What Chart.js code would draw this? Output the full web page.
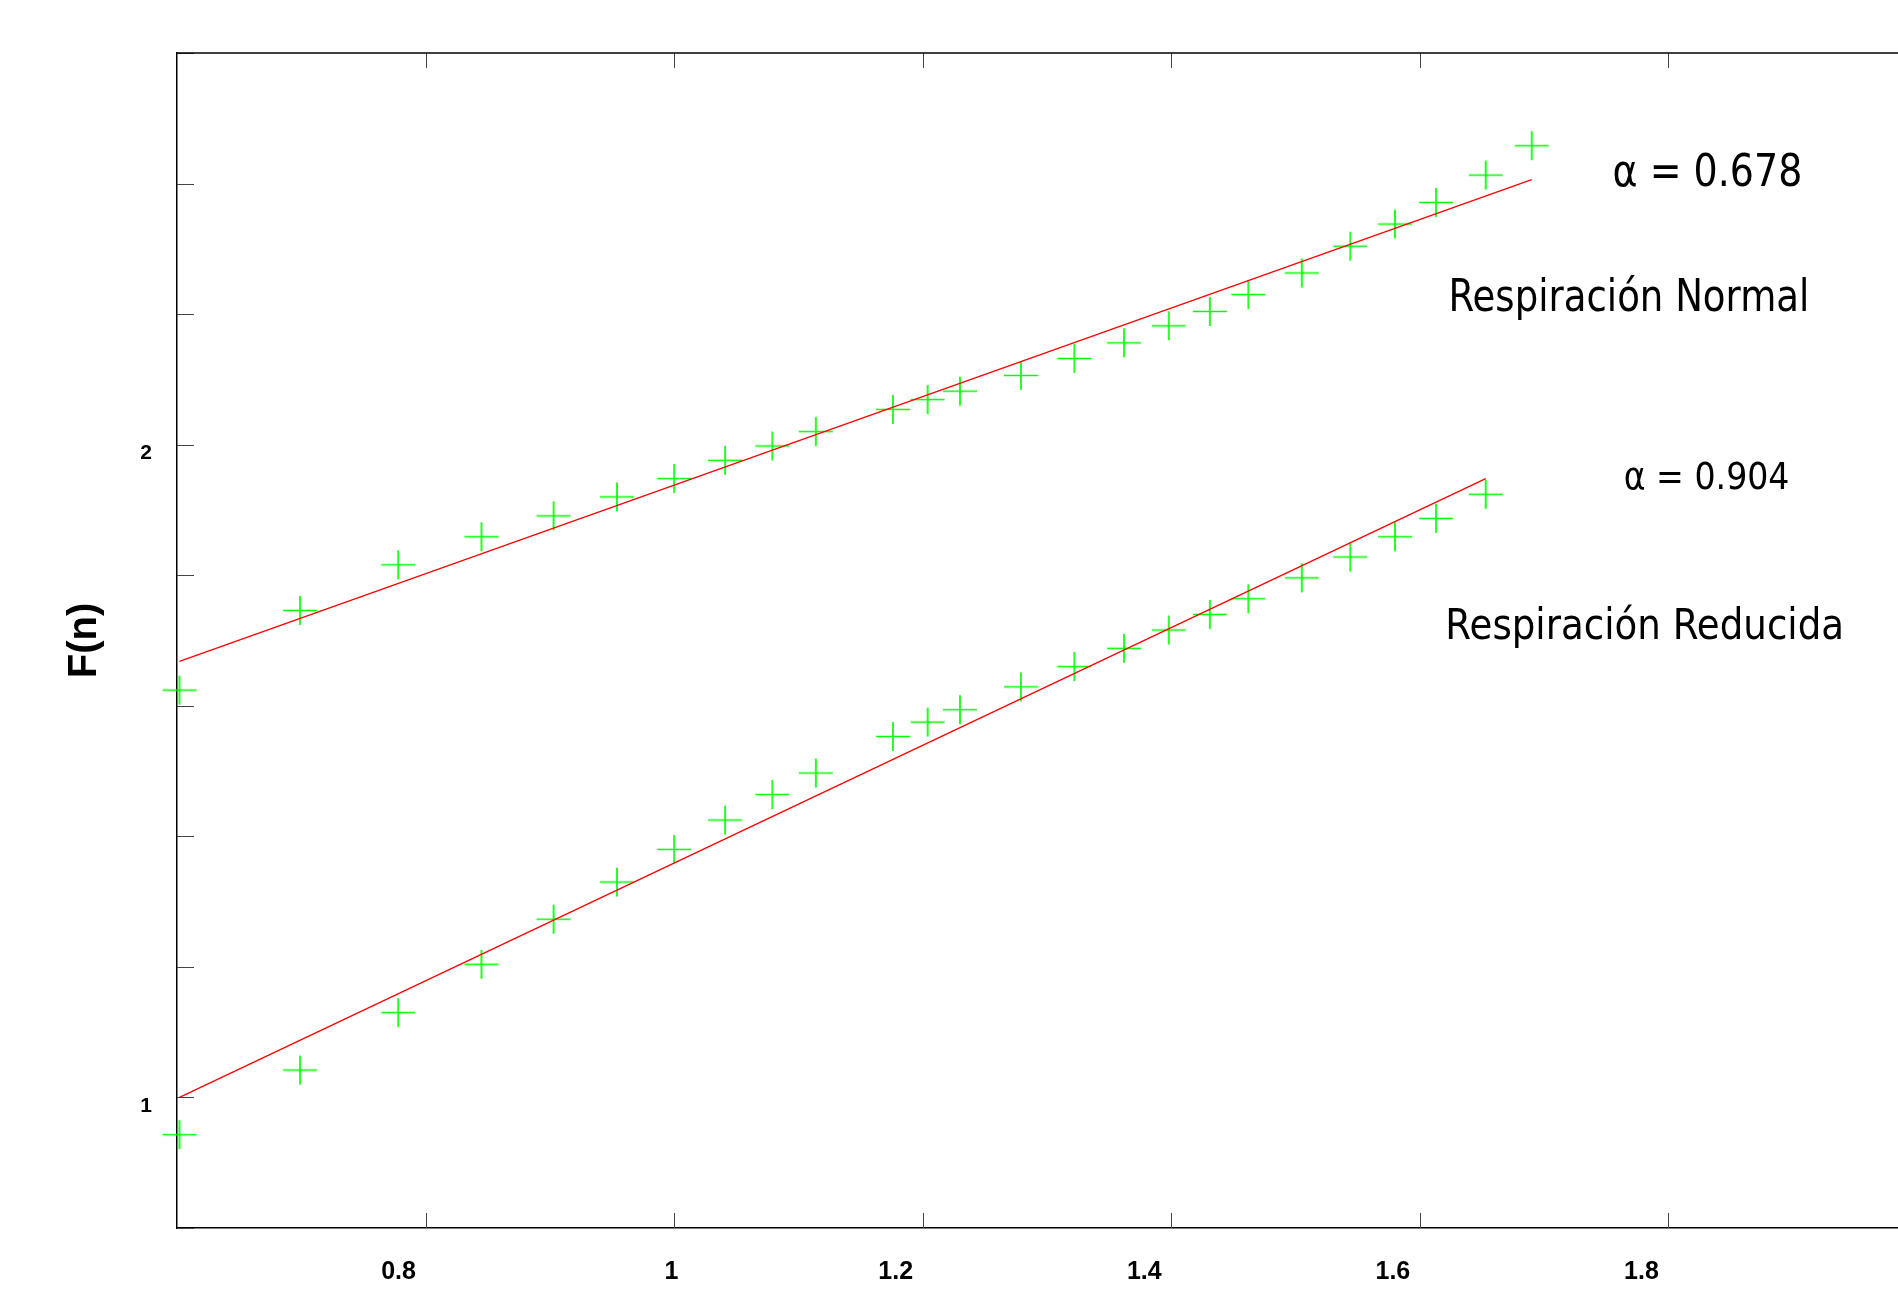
<!DOCTYPE html>
<html>
<head>
<meta charset="utf-8">
<script src="https://cdn.jsdelivr.net/npm/chart.js@4.4.1/dist/chart.umd.min.js"></script>
<style>
  html, body { margin: 0; padding: 0; overflow: hidden; background: #fff; }
  #myChart { display: block; }
</style>
</head>
<body>
<canvas id="myChart" width="1946" height="1290"></canvas>
<script>
// log10(n) window sizes
const logNNormal = [0.602, 0.699, 0.778, 0.845, 0.903, 0.954, 1.000, 1.041, 1.079, 1.114,
  1.176, 1.204, 1.230, 1.279, 1.322, 1.362, 1.398, 1.431, 1.462, 1.505,
  1.544, 1.580, 1.613, 1.653, 1.690];
const fNormal = [1.624, 1.746, 1.816, 1.859, 1.891, 1.920, 1.948, 1.976, 1.998, 2.020,
  2.054, 2.069, 2.082, 2.106, 2.132, 2.156, 2.182, 2.204, 2.230, 2.263,
  2.304, 2.338, 2.371, 2.413, 2.458];

const logNReduced = [0.602, 0.699, 0.778, 0.845, 0.903, 0.954, 1.000, 1.041, 1.079, 1.114,
  1.176, 1.204, 1.230, 1.279, 1.322, 1.362, 1.398, 1.431, 1.462, 1.505,
  1.544, 1.580, 1.613, 1.653];
const fReduced = [0.943, 1.042, 1.130, 1.204, 1.273, 1.330, 1.380, 1.425, 1.464, 1.497,
  1.553, 1.575, 1.594, 1.629, 1.660, 1.688, 1.716, 1.740, 1.764, 1.796,
  1.828, 1.859, 1.887, 1.924];

// fitted lines (end points)
const fitNormalX = [0.602, 1.690];
const fitNormalY = [1.668, 2.406];
const fitReducedX = [0.602, 1.653];
const fitReducedY = [1.000, 1.948];

const xTickLabels = ['0.8', '1', '1.2', '1.4', '1.6', '1.8'];
const yTickLabels = ['1', '2'];

const toPoints = (xs, ys) => xs.map((x, i) => ({x: x, y: ys[i]}));

// green "+" marker, a bit wider than tall like the original
function plusMarker() {
  const c = document.createElement('canvas');
  c.width = 36; c.height = 31;
  const g = c.getContext('2d');
  g.strokeStyle = '#00ff00';
  g.lineWidth = 1.7;
  g.beginPath();
  g.moveTo(1, 15.5); g.lineTo(35, 15.5);
  g.moveTo(18, 1); g.lineTo(18, 30);
  g.stroke();
  return c;
}
const marker = plusMarker();

const notes = [
  {text: 'α = 0.678', x: 1.755, y: 2.396, size: 38, stretch: 1.17},
  {text: 'Respiración Normal', x: 1.623, y: 2.205, size: 37.1, stretch: 1.18},
  {text: 'α = 0.904', x: 1.764, y: 1.932, size: 33.2, stretch: 1.1},
  {text: 'Respiración Reducida', x: 1.6205, y: 1.703, size: 37.2, stretch: 1.14}
];

const framePlugin = {
  id: 'frame',
  afterDraw(chart) {
    const {ctx, chartArea: a, scales: {x, y}} = chart;
    ctx.save();
    // inward tick marks
    ctx.strokeStyle = '#444';
    ctx.lineWidth = 1;
    ctx.beginPath();
    x.ticks.forEach(t => {
      const px = Math.round(x.getPixelForValue(t.value)) + 0.5;
      if (px < a.left + 3 || px > a.right - 3) return;
      ctx.moveTo(px, a.bottom); ctx.lineTo(px, a.bottom - 15);
      ctx.moveTo(px, a.top); ctx.lineTo(px, a.top + 15);
    });
    y.ticks.forEach(t => {
      const py = Math.round(y.getPixelForValue(t.value)) + 0.5;
      ctx.moveTo(a.left, py); ctx.lineTo(a.left + 17, py);
    });
    ctx.stroke();
    // top frame line
    ctx.strokeStyle = '#000';
    ctx.lineWidth = 1.5;
    ctx.beginPath();
    ctx.moveTo(a.left, a.top); ctx.lineTo(chart.width, a.top);
    ctx.stroke();
    // text notes
    ctx.fillStyle = '#000';
    ctx.textAlign = 'left';
    ctx.textBaseline = 'alphabetic';
    notes.forEach(n => {
      ctx.save();
      ctx.translate(x.getPixelForValue(n.x), y.getPixelForValue(n.y));
      ctx.scale(1, n.stretch);
      ctx.font = n.size + "px 'DejaVu Sans', Verdana, sans-serif";
      ctx.fillText(n.text, 0, 0);
      ctx.restore();
    });
    ctx.restore();
  }
};

Chart.defaults.font.family = "'Liberation Sans', Arial, sans-serif";
Chart.defaults.color = '#000';

const ctx = document.getElementById('myChart').getContext('2d');
const chart = new Chart(ctx, {
  type: 'scatter',
  data: {
    datasets: [
      {
        label: 'Ajuste normal',
        data: toPoints(fitNormalX, fitNormalY),
        showLine: true,
        borderColor: '#ff0000',
        borderWidth: 1.3,
        pointRadius: 0,
        clip: false
      },
      {
        label: 'Ajuste reducida',
        data: toPoints(fitReducedX, fitReducedY),
        showLine: true,
        borderColor: '#ff0000',
        borderWidth: 1.3,
        pointRadius: 0,
        clip: false
      },
      {
        label: 'Respiración Normal',
        data: toPoints(logNNormal, fNormal),
        pointStyle: marker,
        clip: false
      },
      {
        label: 'Respiración Reducida',
        data: toPoints(logNReduced, fReduced),
        pointStyle: marker,
        clip: false
      }
    ]
  },
  options: {
    responsive: false,
    animation: false,
    layout: { padding: { top: 53, right: 13.5, left: 0, bottom: 0 } },
    plugins: {
      legend: { display: false },
      tooltip: { enabled: false }
    },
    scales: {
      x: {
        type: 'linear',
        min: 0.6,
        max: 2.0,
        grid: { display: false, drawTicks: false },
        border: { display: true, color: '#000', width: 1.5 },
        ticks: {
          stepSize: 0.2,
          autoSkip: false,
          maxRotation: 0,
          padding: 29,
          labelOffset: -27,
          font: { size: 25, weight: 'bold' },
          callback: (v) => {
            const s = String(Math.round(v * 10) / 10);
            if (!xTickLabels.includes(s)) return '';
            // the "1" label sits almost on its tick in the original
            return s === '1' ? '\u2007\u2007\u2007 1' : s;
          }
        },
        afterFit: (scale) => { scale.height = 62; }
      },
      y: {
        type: 'linear',
        min: 0.8,
        max: 2.6,
        grid: { display: false, drawTicks: false },
        border: { display: true, color: '#000', width: 1.5 },
        ticks: {
          stepSize: 0.2,
          autoSkip: false,
          padding: 25,
          labelOffset: 9,
          font: { size: 21, weight: 'bold' },
          callback: (v) => {
            const s = String(Math.round(v * 10) / 10);
            return yTickLabels.includes(s) ? s : '';
          }
        },
        title: {
          display: true,
          text: 'F(n)',
          font: { size: 40, weight: 'bold' },
          padding: { top: 61, bottom: 0 }
        },
        afterFit: (scale) => { scale.width = 177; }
      }
    }
  },
  plugins: [framePlugin]
});
</script>
</body>
</html>
